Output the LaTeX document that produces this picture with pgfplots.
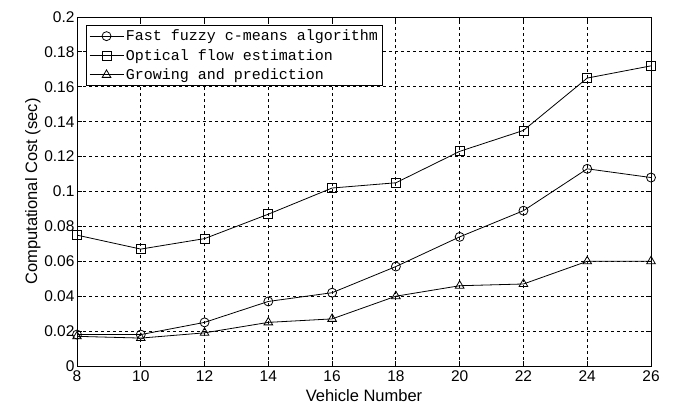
\documentclass[border=0pt]{standalone}
\usepackage{pgfplots}
\pgfplotsset{compat=1.18}
\usepackage{fontspec}
\setmainfont{Liberation Sans}
\newfontfamily\legfont{Liberation Mono}
\begin{document}
\begin{tikzpicture}
\useasboundingbox (0,0) rectangle (673pt,408pt);
\begin{axis}[
  at={(77pt,42pt)}, anchor=south west,
  scale only axis, width=574pt, height=349pt,
  xmin=8, xmax=26, ymin=0, ymax=0.2,
  xtick={8,10,...,26},
  ytick={0,0.02,...,0.2},
  yticklabels={0,0.02,0.04,0.06,0.08,0.1,0.12,0.14,0.16,0.18,0.2},
  tick align=inside,
  major tick length=5pt,
  grid=major,
  major grid style={black, dash pattern=on 3pt off 3pt, line width=0.9pt},
  axis line style={black, line width=0.9pt},
  every tick/.style={black, line width=0.9pt},
  tick label style={font=\fontsize{15.5}{17}\selectfont},
  xticklabel style={yshift=-1pt},
  yticklabel style={xshift=1pt},
  /pgf/number format/assume math mode=true,
  xlabel={Vehicle Number},
  ylabel={Computational Cost (sec)},
  xlabel style={font=\fontsize{16.5}{18}\selectfont, yshift=-1pt},
  ylabel style={font=\fontsize{16.5}{18}\selectfont, yshift=-3pt},
  legend style={at={(0.016,0.977)}, anchor=north west, draw=black, line width=0.9pt,
    font=\legfont\fontsize{15}{17}\selectfont, row sep=3pt, inner sep=2.5pt,
    legend cell align=left},
  legend image code/.code={\draw[#1] (0pt,0pt) -- (34pt,0pt); \draw[#1, only marks] plot coordinates {(17pt,0pt)};},
]
\addplot[black, line width=0.8pt, mark=o, mark size=4.5pt, mark options={solid, line width=0.8pt}]
  coordinates {(8,0.018)(10,0.018)(12,0.025)(14,0.037)(16,0.042)(18,0.057)(20,0.074)(22,0.089)(24,0.113)(26,0.108)};
\addlegendentry{Fast fuzzy c-means algorithm}
\addplot[black, line width=0.8pt, mark=square, mark size=4.5pt, mark options={solid, line width=0.8pt}]
  coordinates {(8,0.075)(10,0.067)(12,0.073)(14,0.087)(16,0.102)(18,0.105)(20,0.123)(22,0.135)(24,0.165)(26,0.172)};
\addlegendentry{Optical flow estimation}
\addplot[black, line width=0.8pt, mark=triangle, mark size=5pt, mark options={solid, line width=0.8pt}]
  coordinates {(8,0.017)(10,0.016)(12,0.019)(14,0.025)(16,0.027)(18,0.040)(20,0.046)(22,0.047)(24,0.060)(26,0.060)};
\addlegendentry{Growing and prediction}
\end{axis}
\end{tikzpicture}
\end{document}
